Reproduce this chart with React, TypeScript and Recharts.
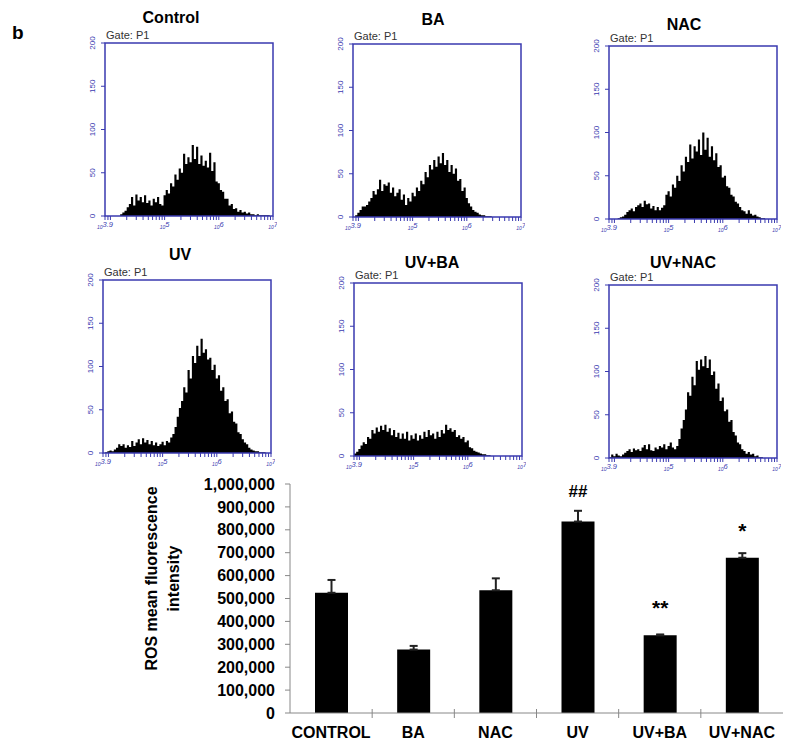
import React from "react"
import { AreaChart, Area, XAxis, YAxis, ReferenceArea, BarChart, Bar, ErrorBar, LabelList } from "recharts"

const FONT = "Arial, 'Liberation Sans', Helvetica, sans-serif"
const BLUE = "#3a3ab0"

// flow histograms: bins in log10 fluorescence, first bin at 10^3.9
const BIN_START = 3.9
const BIN_WIDTH = 0.04

const controlCounts = [0, 0, 0, 0, 0, 0, 0, 2, 4, 6, 10, 14, 22, 12, 25, 18, 22, 16, 24, 15, 18, 12, 20, 16, 22, 14, 12, 24, 30, 26,
  38, 34, 48, 42, 55, 50, 72, 60, 68, 62, 82, 66, 80, 60, 70, 58, 64, 56, 73, 52, 62, 40, 38, 30, 28, 20, 20, 12, 14, 8,
  9, 5, 7, 4, 5, 3, 4, 2, 2, 1, 2, 1, 1, 1, 1, 1]
const baCounts = [0, 2, 5, 8, 12, 12, 14, 18, 22, 30, 26, 32, 43, 30, 38, 36, 40, 28, 34, 24, 28, 32, 20, 26, 14, 22, 18, 28, 24, 34,
  30, 42, 38, 52, 46, 60, 55, 66, 58, 70, 62, 74, 60, 66, 52, 60, 50, 56, 42, 44, 30, 34, 22, 16, 12, 8, 6, 5, 3, 2,
  2, 1, 1, 1]
const nacCounts = [0, 0, 0, 0, 1, 2, 3, 5, 8, 10, 12, 9, 14, 16, 18, 14, 21, 17, 18, 12, 15, 10, 14, 10, 13, 16, 28, 32, 26, 40,
  36, 50, 44, 62, 55, 72, 66, 86, 70, 84, 78, 92, 74, 100, 80, 94, 72, 84, 68, 76, 60, 62, 48, 50, 38, 36, 28, 26, 20, 18,
  14, 10, 9, 6, 10, 6, 4, 5, 3, 2, 1, 1]
const uvCounts = [0, 1, 2, 3, 2, 4, 6, 10, 8, 10, 6, 9, 7, 14, 8, 12, 16, 10, 17, 12, 15, 10, 14, 9, 12, 8, 10, 13, 9, 14,
  12, 18, 22, 30, 42, 52, 60, 76, 70, 96, 86, 112, 104, 124, 112, 132, 116, 120, 108, 110, 96, 102, 86, 90, 72, 76, 60, 62, 46, 48,
  36, 34, 24, 22, 16, 12, 10, 6, 4, 3, 2, 2, 1, 1, 1]
const uvBaCounts = [3, 5, 8, 12, 16, 14, 22, 20, 30, 26, 33, 28, 35, 30, 36, 28, 32, 24, 30, 22, 27, 20, 26, 20, 28, 18, 24, 20, 26, 18,
  24, 20, 28, 22, 30, 24, 26, 20, 28, 22, 30, 26, 36, 30, 32, 28, 30, 22, 24, 20, 22, 16, 18, 10, 9, 6, 5, 4, 3, 2,
  2, 1, 1]
const uvNacCounts = [1, 4, 2, 5, 3, 2, 4, 6, 8, 10, 7, 11, 9, 10, 8, 12, 15, 10, 16, 9, 8, 12, 10, 14, 12, 16, 10, 14, 18, 12,
  10, 14, 22, 34, 44, 56, 76, 72, 94, 84, 112, 102, 114, 106, 118, 104, 114, 96, 100, 80, 86, 66, 70, 54, 56, 42, 44, 30, 26, 18,
  16, 10, 8, 5, 7, 4, 5, 2, 3, 1, 1]

const histTitles = ["Control", "BA", "NAC", "UV", "UV+BA", "UV+NAC"]
const histCounts = [controlCounts, baCounts, nacCounts, uvCounts, uvBaCounts, uvNacCounts]
const countTicks = [0, 50, 100, 150, 200]
const decadeLabels = [3.9, 5, 6, 7]
const logTicks = [3.9, ...[9e3, 1e4, 2e4, 3e4, 4e4, 5e4, 6e4, 7e4, 8e4, 9e4, 1e5, 2e5, 3e5, 4e5, 5e5, 6e5, 7e5, 8e5, 9e5,
  1e6, 2e6, 3e6, 4e6, 5e6, 6e6, 7e6, 8e6, 9e6, 1e7].map(Math.log10)]

// ROS bar chart
const groups = ["CONTROL", "BA", "NAC", "UV", "UV+BA", "UV+NAC"]
const rosMeans = [525000, 277000, 536000, 836000, 339000, 678000]
const rosErrors = [56000, 16000, 52000, 47000, 4000, 20000]
const marks = ["", "", "", "##", "**", "*"]
const rosTicks = [0, 100000, 200000, 300000, 400000, 500000, 600000, 700000, 800000, 900000, 1000000]

// where each histogram frame sits on the page, and its title centre
const panelLayout = [
  { left: 105, top: 43, titleX: 171, titleY: 18 },
  { left: 353, top: 44, titleX: 433, titleY: 20 },
  { left: 609, top: 46, titleX: 684, titleY: 25 },
  { left: 103, top: 280, titleX: 180, titleY: 255 },
  { left: 354, top: 283, titleX: 432, titleY: 263 },
  { left: 609, top: 285, titleX: 683, titleY: 263 },
]
const FRAME_W = 168
const FRAME_H = 173
const AXIS_W = 22
const TOP_PAD = 9

const BAR_PLOT_W = 493
const BAND = BAR_PLOT_W / groups.length

const LogTick = (props: any) => {
  const { x, y, payload } = props
  const lab = decadeLabels.find((d) => Math.abs(d - payload.value) < 1e-6)
  if (lab === undefined) return <g />
  return (
    <text x={x} y={y + 7} textAnchor="middle" fill={BLUE} fontFamily={FONT} fontStyle="italic">
      <tspan fontSize={5}>10</tspan>
      <tspan fontSize={7.5} dy={-2.5}>{lab}</tspan>
    </text>
  )
}

const CountTick = (props: any) => {
  const { x, y, payload } = props
  const bx = x - 4
  return (
    <text x={bx} y={y} transform={`rotate(-90, ${bx}, ${y})`} textAnchor="middle" fontSize={8} fill={BLUE} fontFamily={FONT}>
      {payload.value}
    </text>
  )
}

const Histogram = ({ counts, title, layout }: any) => {
  const data = [
    ...counts.map((c: number, i: number) => ({ x: BIN_START + i * BIN_WIDTH, count: c })),
    { x: BIN_START + counts.length * BIN_WIDTH, count: 0 },
  ]
  return (
    <>
      <div style={{ position: "absolute", left: layout.titleX - 70, top: layout.titleY - 10, width: 140, textAlign: "center",
        fontFamily: FONT, fontWeight: "bold", fontSize: 16, lineHeight: "20px" }}>
        {title}
      </div>
      <div style={{ position: "absolute", left: layout.left + 1, top: layout.top - 14, fontFamily: FONT, fontSize: 11,
        lineHeight: "12px", color: "#333", whiteSpace: "nowrap" }}>
        Gate: P1
      </div>
      <div style={{ position: "absolute", left: layout.left - AXIS_W, top: layout.top - TOP_PAD }}>
        <AreaChart width={FRAME_W + AXIS_W + 4} height={FRAME_H + TOP_PAD + 18} data={data}
          margin={{ top: TOP_PAD, right: 4, bottom: 0, left: 0 }}>
          <XAxis type="number" dataKey="x" domain={[3.9, 7]} ticks={logTicks} interval={0} allowDataOverflow
            axisLine={false} tickSize={4} tickLine={{ stroke: BLUE }} tick={<LogTick />} height={18} />
          <YAxis type="number" domain={[0, 200]} ticks={countTicks} interval={0} allowDataOverflow width={AXIS_W}
            axisLine={false} tickSize={4} tickLine={{ stroke: BLUE }} tick={<CountTick />} />
          <Area type="stepAfter" dataKey="count" stroke="none" fill="#000" fillOpacity={1} baseValue={0}
            dot={false} activeDot={false} isAnimationActive={false} />
          <ReferenceArea x1={3.9} x2={7} y1={0} y2={200} fill="none" stroke={BLUE} strokeWidth={1.5} ifOverflow="visible" />
        </AreaChart>
      </div>
    </>
  )
}

const GroupTick = (props: any) => {
  const { x, y, payload, index } = props
  return (
    <g>
      {index > 0 && <line x1={x - BAND / 2} x2={x - BAND / 2} y1={y - 18} y2={y - 9} stroke="#888" />}
      <text x={x} y={y} dy="0.71em" textAnchor="middle" fontSize={16} fontWeight="bold" fill="#000" fontFamily={FONT}>
        {payload.value}
      </text>
    </g>
  )
}

const MarkLabel = (props: any) => {
  const { x, y, width, value } = props
  if (!value) return <g />
  const star = String(value).includes("*")
  return (
    <text x={x + width / 2} y={y - (star ? 20 : 25)} textAnchor="middle" fontSize={star ? 21 : 17}
      fontWeight="bold" fill="#000" fontFamily={FONT}>
      {value}
    </text>
  )
}

const renderYLabel = (props: any) => {
  const vb = props.viewBox || { x: 0, y: 14, width: 190, height: 229 }
  const cy = vb.y + vb.height / 2 - 20
  const x1 = vb.x + 57
  const x2 = vb.x + 79
  return (
    <g fontFamily={FONT} fontWeight="bold" fontSize={16} fill="#000">
      <text x={x1} y={cy} transform={`rotate(-90, ${x1}, ${cy})`} textAnchor="middle">ROS mean fluorescence</text>
      <text x={x2} y={cy} transform={`rotate(-90, ${x2}, ${cy})`} textAnchor="middle">intensity</text>
    </g>
  )
}

const RosChart = () => {
  const data = groups.map((g, i) => ({ name: g, value: rosMeans[i], err: [0, rosErrors[i]], mark: marks[i] }))
  return (
    <div style={{ position: "absolute", left: 100, top: 470 }}>
      <BarChart width={700} height={281} data={data} margin={{ top: 14, right: 17, bottom: 0, left: 0 }}>
        <XAxis dataKey="name" height={38} interval={0} tickSize={0} tickMargin={14} tickLine={false}
          axisLine={{ stroke: "#888" }} tick={<GroupTick />} />
        <YAxis type="number" domain={[0, 1000000]} ticks={rosTicks} interval={0} width={190}
          tickFormatter={(v: number) => v.toLocaleString("en-US")}
          axisLine={{ stroke: "#888" }} tickLine={{ stroke: "#888" }} tickSize={5} tickMargin={10}
          tick={{ fontSize: 16, fontWeight: "bold", fill: "#000", fontFamily: FONT }}
          label={{ content: renderYLabel }} />
        <Bar dataKey="value" fill="#000" barSize={33} isAnimationActive={false}>
          <ErrorBar dataKey="err" direction="y" width={4} stroke="#222" strokeWidth={2} />
          <LabelList dataKey="mark" content={<MarkLabel />} />
        </Bar>
      </BarChart>
    </div>
  )
}

export default function App() {
  return (
    <div style={{ position: "absolute", left: 0, top: 0, width: 800, height: 751, background: "#fff", overflow: "hidden" }}>
      <div style={{ position: "absolute", left: 12, top: 22, fontFamily: FONT, fontWeight: "bold", fontSize: 19, lineHeight: "22px" }}>
        b
      </div>
      {histTitles.map((t, i) => (
        <Histogram key={t} title={t} counts={histCounts[i]} layout={panelLayout[i]} />
      ))}
      <RosChart />
    </div>
  )
}
